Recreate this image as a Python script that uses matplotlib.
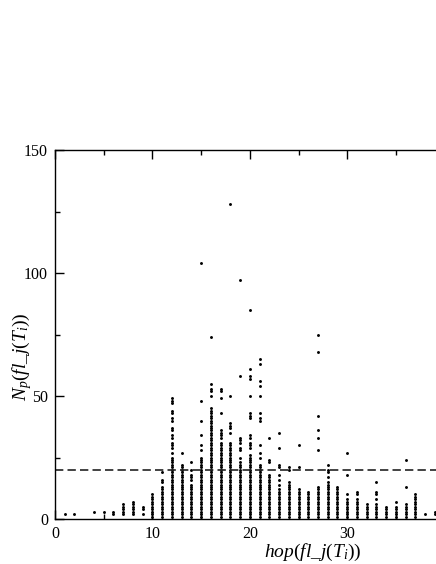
import matplotlib
matplotlib.use("Agg")
import matplotlib.pyplot as plt
from matplotlib.ticker import MultipleLocator

# ---- data ----
# columns where every count from dense_low..dense_high is present
dense_hops = [7, 8, 10, 11, 12, 13, 14, 15, 16, 17, 18, 19, 20, 21, 22, 23, 24,
              25, 26, 27, 28, 29, 30, 31, 32, 33, 34, 35, 36, 37]
dense_low = [2, 2, 1, 1, 1, 1, 1, 1, 1, 1, 1, 1, 1, 1, 1, 1, 1,
             1, 1, 1, 1, 1, 1, 1, 1, 1, 1, 1, 1, 1]
dense_high = [6, 7, 10, 13, 25, 22, 14, 25, 45, 31, 31, 23, 26, 22, 18, 12, 15,
              12, 11, 13, 15, 13, 8, 8, 6, 6, 5, 5, 6, 10]

# isolated points
iso_hops = [1, 2, 4, 5, 6, 6, 9, 9, 9,
            11, 11, 11,
            12, 12, 12, 12, 12, 12, 12, 12, 12, 12, 12, 12, 12, 12, 12,
            13,
            14, 14, 14, 14, 14,
            15, 15, 15, 15, 15, 15,
            16, 16, 16, 16, 16,
            17, 17, 17, 17, 17, 17, 17, 17,
            18, 18, 18, 18, 18, 18,
            19, 19, 19, 19, 19, 19, 19, 19,
            20, 20, 20, 20, 20, 20, 20, 20, 20, 20, 20, 20, 20,
            21, 21, 21, 21, 21, 21, 21, 21, 21, 21, 21,
            22, 22, 22,
            23, 23, 23, 23, 23, 23, 23,
            24, 24,
            25, 25,
            27, 27, 27, 27, 27, 27,
            28, 28, 28, 28,
            30, 30, 30,
            31, 31,
            33, 33, 33, 33,
            35,
            36, 36,
            38, 39, 39]
iso_counts = [2, 2, 3, 3, 2, 3, 2, 4, 5,
              15, 16, 19,
              27, 29, 30, 31, 33, 34, 36, 37, 40, 41, 43, 44, 47, 48, 49,
              27,
              16, 17, 18, 20, 23,
              28, 30, 34, 40, 48, 104,
              50, 52, 53, 55, 74,
              33, 34, 35, 36, 43, 49, 52, 53,
              35, 37, 38, 39, 50, 128,
              25, 28, 29, 31, 32, 33, 58, 97,
              29, 30, 31, 33, 34, 41, 42, 43, 50, 57, 58, 61, 85,
              25, 27, 30, 40, 41, 43, 50, 54, 56, 63, 65,
              23, 24, 33,
              14, 16, 18, 21, 22, 29, 35,
              20, 21,
              21, 30,
              28, 33, 36, 42, 68, 75,
              17, 19, 20, 22,
              10, 18, 27,
              10, 11,
              8, 10, 11, 15,
              7,
              13, 24,
              2, 2, 3]

threshold = 20
x_ticks = [0, 10, 20, 30]
y_ticks = [0, 50, 100, 150]

# ---- build point lists ----
xs, ys = [], []
for h, lo, hi in zip(dense_hops, dense_low, dense_high):
    for c in range(lo, hi + 1):
        xs.append(h)
        ys.append(c)
xs += iso_hops
ys += iso_counts

plt.rcParams['font.family'] = ['Liberation Serif', 'DejaVu Serif']
plt.rcParams['mathtext.fontset'] = 'custom'
plt.rcParams['mathtext.rm'] = 'Liberation Serif'
plt.rcParams['mathtext.it'] = 'Liberation Serif:italic'

W, H = 436, 564
fig = plt.figure(figsize=(W / 100, H / 100), dpi=100)
px_per_unit = 9.74
xmax = 53
ax = fig.add_axes([55 / W, (H - 519) / H, xmax * px_per_unit / W, 369 / H])

ax.plot(xs, ys, 'o', ms=2.1, color='black', mec='none', clip_on=False)
ax.axhline(threshold, color='#222222', lw=1.2, ls=(0, (5, 2.5)))

ax.set_xlim(0, xmax)
ax.set_ylim(0, 150)
ax.set_xticks(x_ticks)
ax.set_yticks(y_ticks)
ax.xaxis.set_minor_locator(MultipleLocator(5))
ax.yaxis.set_minor_locator(MultipleLocator(25))
ax.tick_params(which='both', direction='in', top=True, right=True,
               labelsize=11.5, width=1.0, color='black')
ax.tick_params(which='major', length=6.5, pad=5)
ax.tick_params(which='minor', length=3.5)
for s in ax.spines.values():
    s.set_linewidth(1.0)

ax.set_xlabel(r'$hop(fl\_j(T_i))$', fontsize=14)
ax.set_ylabel(r'$N_p(fl\_j(T_i))$', fontsize=14)
ax.xaxis.set_label_coords(0.5, -0.063)
ax.yaxis.set_label_coords(-21 / (xmax * px_per_unit), 0.44)

fig.savefig('out.png', dpi=100)
